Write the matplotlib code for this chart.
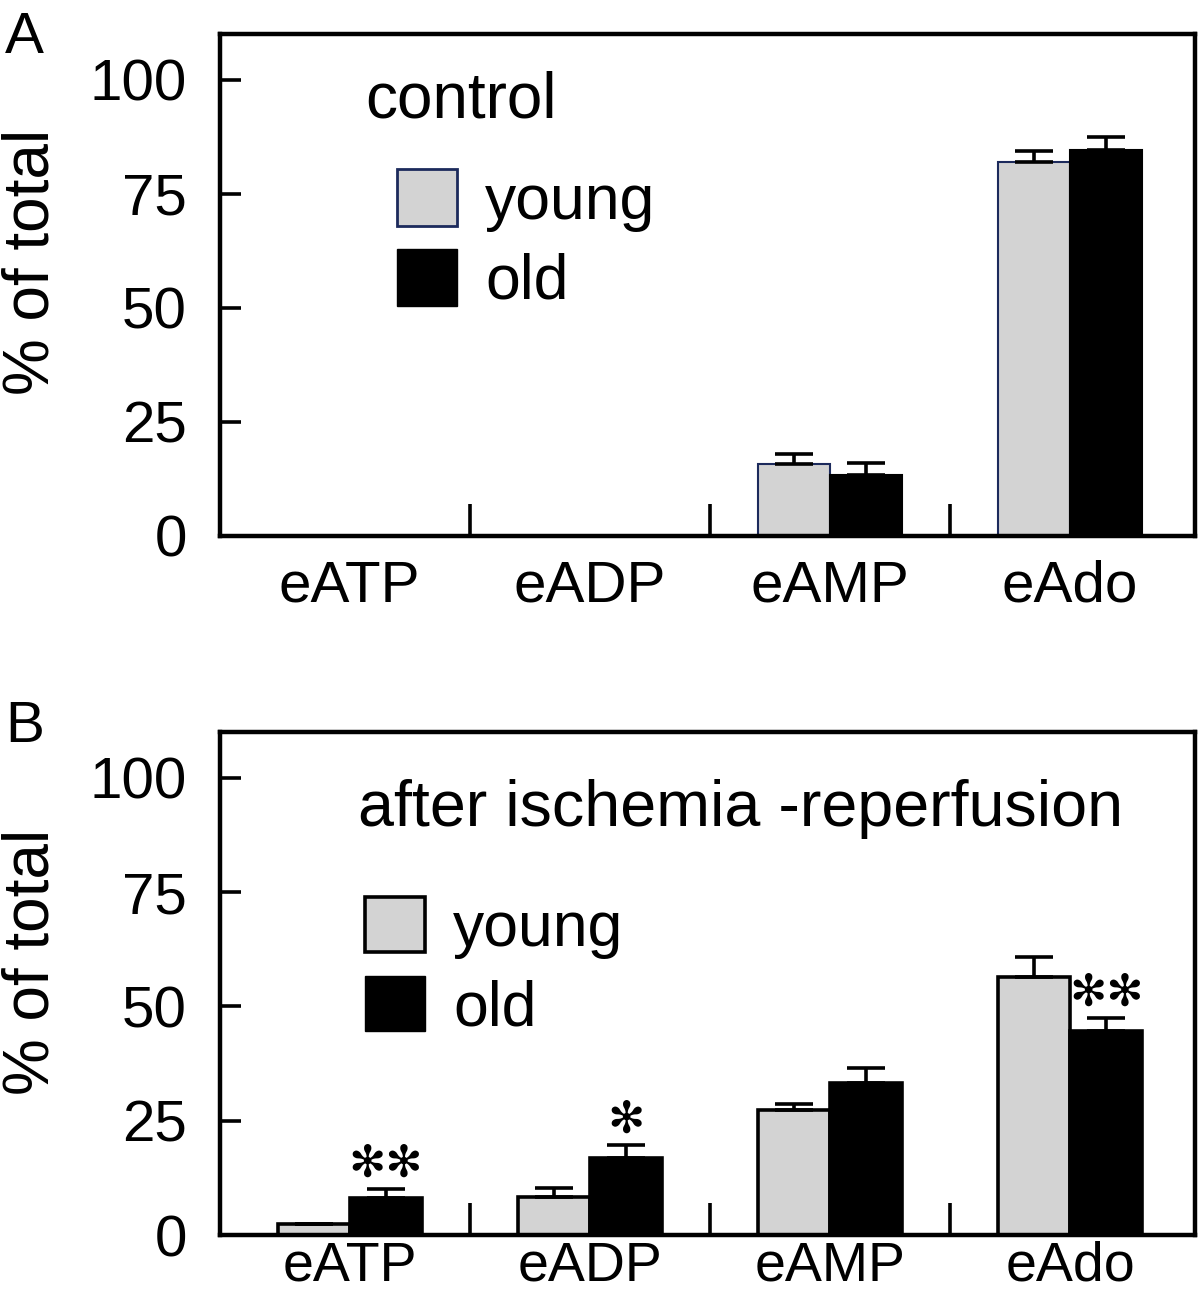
import numpy as np
import matplotlib
matplotlib.use("Agg")
import matplotlib.pyplot as plt
from matplotlib.patches import Patch

plt.rcParams['font.family'] = ['Liberation Sans', 'DejaVu Sans']

categories = ["eATP", "eADP", "eAMP", "eAdo"]
groups = ["young", "old"]

# panel A: control
ctrl_young = [0.0, 0.0, 15.8, 82.0]
ctrl_young_err = [0.0, 0.0, 2.2, 2.4]
ctrl_old = [0.0, 0.0, 13.4, 84.6]
ctrl_old_err = [0.0, 0.0, 2.6, 2.9]

# panel B: after ischemia-reperfusion
ir_young = [2.5, 8.3, 27.3, 56.5]
ir_young_err = [0.0, 2.0, 1.3, 4.3]
ir_old = [8.2, 16.9, 33.3, 44.6]
ir_old_err = [1.9, 2.8, 3.2, 2.9]
ir_stars = ["✻✻", "✻", "", "✻✻"]

fig = plt.figure(figsize=(12, 13.05), dpi=100)
axA = fig.add_axes([0.1833, 0.5893, 0.8125, 0.3847])
axB = fig.add_axes([0.1833, 0.0536, 0.8125, 0.3855])

x = np.arange(len(categories))
w = 0.3


def draw(ax, young, young_err, old, old_err, young_edge, young_lw, xsize, xpad):
    ax.bar(x - w / 2, young, w, color="#d3d3d3", edgecolor=young_edge,
           linewidth=young_lw, zorder=2)
    ax.bar(x + w / 2, old, w, color="black", edgecolor="black",
           linewidth=young_lw, zorder=2)
    yerr_y = [np.zeros(len(young)), young_err]
    yerr_o = [np.zeros(len(old)), old_err]
    ax.errorbar(x - w / 2, young, yerr=yerr_y, fmt="none", ecolor="black",
                elinewidth=2.6, capsize=14, capthick=2.6, zorder=3)
    ax.errorbar(x + w / 2, old, yerr=yerr_o, fmt="none", ecolor="black",
                elinewidth=2.6, capsize=14, capthick=2.6, zorder=3)
    ax.set_xlim(-0.54, 3.52)
    ax.set_ylim(0, 110)
    ax.set_yticks([0, 25, 50, 75, 100])
    ax.set_xticks(x)
    ax.set_xticklabels(categories, fontsize=xsize)
    ax.set_xticks([0.5, 1.5, 2.5], minor=True)
    ax.tick_params(axis="x", which="major", length=0, pad=xpad)
    ax.tick_params(axis="x", which="minor", direction="in", length=23, width=2.6)
    ax.tick_params(axis="y", direction="in", length=15, width=2.6,
                   labelsize=42, pad=24)
    for s in ax.spines.values():
        s.set_linewidth(3.2)


draw(axA, ctrl_young, ctrl_young_err, ctrl_old, ctrl_old_err, "#1c2a5c", 1.5, 42, 17)
draw(axB, ir_young, ir_young_err, ir_old, ir_old_err, "black", 2.6, 40, 4)

for i, s in enumerate(ir_stars):
    if s:
        axB.text(x[i] + w / 2, ir_old[i] + ir_old_err[i] + 0.6, s,
                 ha="center", va="bottom", fontsize=32,
                 family=["DejaVu Sans"])

axA.text(0.149, 0.833, "control", transform=axA.transAxes, fontsize=46,
         va="baseline", ha="left")
axB.text(0.1415, 0.813, "after ischemia -reperfusion", transform=axB.transAxes,
         fontsize=46.5, va="baseline", ha="left")

hA = [Patch(facecolor="#d3d3d3", edgecolor="#1c2a5c", linewidth=2),
      Patch(facecolor="black", edgecolor="black")]
axA.legend(hA, groups, loc="upper left", bbox_to_anchor=(0.1815, 0.731),
           frameon=False, fontsize=45, handlelength=0.96, handleheight=1.02,
           labelspacing=0.28, handletextpad=0.45, borderpad=0, borderaxespad=0)
hB = [Patch(facecolor="#d3d3d3", edgecolor="black", linewidth=2.6),
      Patch(facecolor="black", edgecolor="black")]
axB.legend(hB, groups, loc="upper left", bbox_to_anchor=(0.1487, 0.672),
           frameon=False, fontsize=45, handlelength=0.96, handleheight=0.97,
           labelspacing=0.28, handletextpad=0.45, borderpad=0, borderaxespad=0)

fig.text(0.026, 0.7992, "% of total", rotation=90, ha="center", va="center",
         fontsize=46)
fig.text(0.026, 0.2628, "% of total", rotation=90, ha="center", va="center",
         fontsize=46)
fig.text(0.004, 1 - 53 / 1305, "A", ha="left", va="baseline", fontsize=42)
fig.text(0.004, 1 - 742 / 1305, "B", ha="left", va="baseline", fontsize=42)

fig.savefig("out.png", dpi=100)
